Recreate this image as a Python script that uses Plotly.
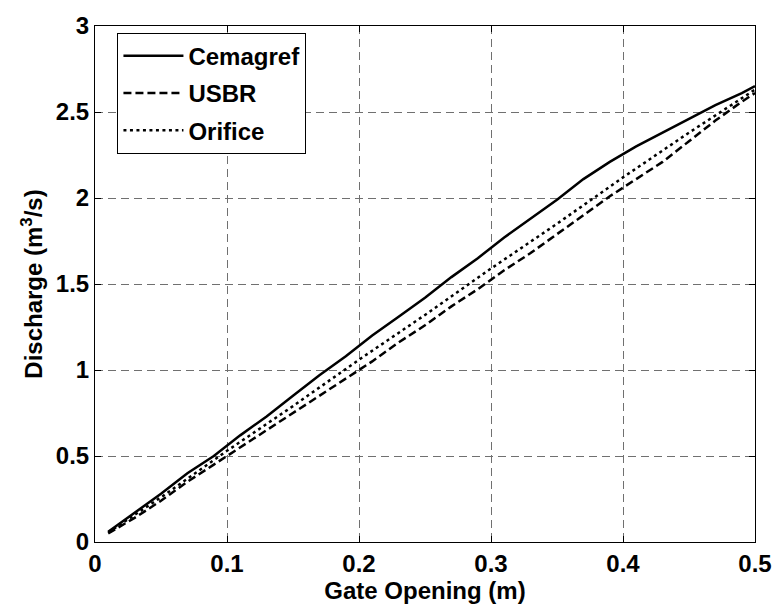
import plotly.graph_objects as go

# Gate opening (m) and discharge (m^3/s)
gate_cem = [0.01, 0.03, 0.05, 0.07, 0.09, 0.11, 0.13, 0.15, 0.17, 0.19, 0.21, 0.23, 0.25,
            0.27, 0.29, 0.31, 0.33, 0.35, 0.37, 0.39, 0.41, 0.43, 0.45, 0.47, 0.49, 0.50]
q_cem = [0.06, 0.17, 0.28, 0.40, 0.50, 0.62, 0.73, 0.85, 0.97, 1.08, 1.20, 1.31, 1.42,
         1.54, 1.65, 1.77, 1.88, 1.99, 2.11, 2.21, 2.30, 2.38, 2.46, 2.54, 2.61, 2.65]

gate_usbr = [0.01, 0.03, 0.05, 0.07, 0.09, 0.11, 0.13, 0.15, 0.17, 0.19, 0.21, 0.23, 0.25,
             0.27, 0.29, 0.31, 0.33, 0.35, 0.37, 0.39, 0.41, 0.43, 0.45, 0.47, 0.49, 0.50]
q_usbr = [0.05, 0.14, 0.24, 0.35, 0.45, 0.55, 0.65, 0.75, 0.85, 0.95, 1.05, 1.16, 1.26,
          1.37, 1.47, 1.58, 1.68, 1.79, 1.90, 2.01, 2.11, 2.21, 2.33, 2.45, 2.56, 2.61]

gate_ori = [0.01, 0.05, 0.10, 0.15, 0.20, 0.25, 0.30, 0.35, 0.40, 0.45, 0.50]
q_ori = [0.055, 0.26, 0.53, 0.79, 1.06, 1.32, 1.59, 1.85, 2.12, 2.38, 2.63]

x_ticks = [0, 0.1, 0.2, 0.3, 0.4, 0.5]
x_labels = ["0", "0.1", "0.2", "0.3", "0.4", "0.5"]
y_ticks = [0, 0.5, 1, 1.5, 2, 2.5, 3]
y_labels = ["0", "0.5", "1", "1.5", "2", "2.5", "3"]

FONT = "Liberation Sans"
bold = dict(family=FONT, size=24, color="black", weight="bold")

fig = go.Figure()
fig.add_trace(go.Scatter(x=gate_cem, y=q_cem, mode="lines", name="Cemagref",
                         legendgroup="a",
                         line=dict(color="black", width=2.5, dash="solid")))
fig.add_trace(go.Scatter(x=gate_usbr, y=q_usbr, mode="lines", name="USBR",
                         legendgroup="b",
                         line=dict(color="black", width=2.5, dash="8px,4px")))
fig.add_trace(go.Scatter(x=gate_ori, y=q_ori, mode="lines", name="Orifice",
                         legendgroup="c",
                         line=dict(color="black", width=2.5, dash="3px,3.5px")))

axis_common = dict(
    showline=True, linecolor="black", linewidth=1, mirror="ticks",
    ticks="inside", ticklen=6, tickwidth=1, tickcolor="black",
    showgrid=True, gridcolor="#707070", gridwidth=1, griddash="8px,5px",
    zeroline=False, tickfont=bold,
)

fig.update_xaxes(range=[0, 0.5], tickvals=x_ticks, ticktext=x_labels,
                 title=dict(text="Gate Opening (m)", font=bold, standoff=2),
                 **axis_common)
fig.update_yaxes(range=[0, 3], tickvals=y_ticks, ticktext=y_labels,
                 title=dict(text="Discharge (m<sup>3</sup>/s)", font=bold, standoff=6),
                 **axis_common)

fig.update_layout(
    width=784, height=608,
    margin=dict(l=95, r=20, t=16, b=65),
    plot_bgcolor="white", paper_bgcolor="white",
    font=dict(family=FONT, size=24, color="black"),
    legend=dict(x=0.034, y=0.987, xanchor="left", yanchor="top",
                bgcolor="white", bordercolor="black", borderwidth=1,
                font=dict(family=FONT, size=24, color="black", weight="bold"),
                itemwidth=60, traceorder="grouped", tracegroupgap=3),
    showlegend=True,
)

fig.write_html("out.html")
